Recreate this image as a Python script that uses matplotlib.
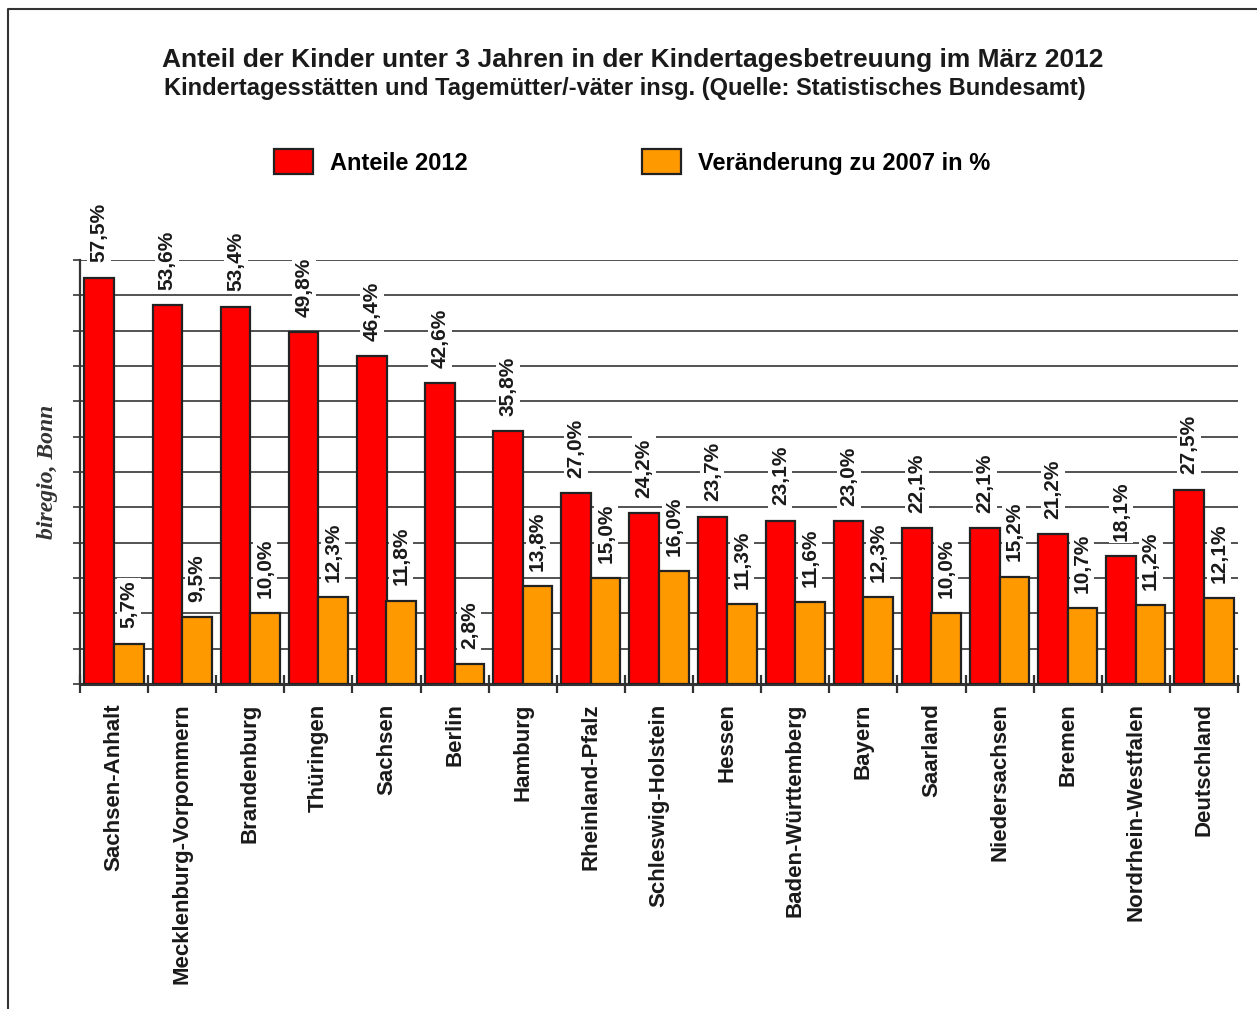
import matplotlib
matplotlib.use("Agg")
import matplotlib.pyplot as plt
import numpy as np
from matplotlib.lines import Line2D
from matplotlib.patches import Patch

categories = ["Sachsen-Anhalt", "Mecklenburg-Vorpommern", "Brandenburg", "Thüringen",
              "Sachsen", "Berlin", "Hamburg", "Rheinland-Pfalz", "Schleswig-Holstein",
              "Hessen", "Baden-Württemberg", "Bayern", "Saarland", "Niedersachsen",
              "Bremen", "Nordrhein-Westfalen", "Deutschland"]
anteile_2012 = [57.5, 53.6, 53.4, 49.8, 46.4, 42.6, 35.8, 27.0, 24.2, 23.7, 23.1,
                23.0, 22.1, 22.1, 21.2, 18.1, 27.5]
veraenderung = [5.7, 9.5, 10.0, 12.3, 11.8, 2.8, 13.8, 15.0, 16.0, 11.3, 11.6,
                12.3, 10.0, 15.2, 10.7, 11.2, 12.1]
series_names = ["Anteile 2012", "Veränderung zu 2007 in %"]
title1 = "Anteil der Kinder unter 3 Jahren in der Kindertagesbetreuung im März 2012"
title2 = "Kindertagesstätten und Tagemütter/-väter insg. (Quelle: Statistisches Bundesamt)"

plt.rcParams['font.family'] = ['Liberation Sans', 'DejaVu Sans']
W, H = 1257, 1009
fig = plt.figure(figsize=(W / 100, H / 100), dpi=100)
ax = fig.add_axes([80 / W, 1 - 684 / H, (1238 - 80) / W, (684 - 260) / H])

red = '#FF0000'
orange = '#FF9900'
edge = '#222222'
x = np.arange(len(categories))
bw = 0.435
off = 0.217
ax.bar(x - off, anteile_2012, bw, color=red, edgecolor=edge, linewidth=1.6, zorder=3)
ax.bar(x + off, veraenderung, bw, color=orange, edgecolor=edge, linewidth=1.6, zorder=3)

def fmt(v):
    return f"{v:.1f}".replace('.', ',') + '%'

for xs, vals in ((x - off, anteile_2012), (x + off, veraenderung)):
    for xi, v in zip(xs, vals):
        ax.annotate(fmt(v), (xi, v), xytext=(0, 11), textcoords='offset points',
                    rotation=90, ha='center', va='bottom', fontsize=15,
                    fontweight='bold', color='#1a1a1a', zorder=5,
                    bbox=dict(boxstyle='square,pad=0.12', fc='white', ec='none'),
                    annotation_clip=False)

ax.set_xlim(-0.5, len(categories) - 0.5)
ax.set_ylim(0, 60)
ax.set_yticks(np.arange(0, 61, 5))
ax.set_yticklabels([])
ax.yaxis.grid(True, color='#444444', linewidth=1.3)
ax.set_axisbelow(True)
ax.tick_params(axis='y', length=5, width=1.3, color='#444444')

ax.set_xticks(x)
ax.set_xticklabels(categories, rotation=90, fontsize=16, fontweight='bold', color='#1a1a1a')
ax.tick_params(axis='x', which='major', length=0, pad=14)
ax.set_xticks(np.arange(-0.5, len(categories), 1), minor=True)
ax.tick_params(axis='x', which='minor', length=13, width=1.6, direction='inout', color='#333333')

for s in ['top', 'right']:
    ax.spines[s].set_visible(False)
ax.spines['bottom'].set_linewidth(2.2)
ax.spines['bottom'].set_color('#333333')
ax.spines['left'].set_linewidth(1.6)
ax.spines['left'].set_color('#333333')

fig.text(633 / W, 1 - 60 / H, title1, ha='center', va='center', fontsize=19,
         fontweight='bold', color='#1a1a1a')
fig.text(625 / W, 1 - 88 / H, title2, ha='center', va='center', fontsize=17,
         fontweight='bold', color='#1a1a1a')

handles = [Patch(facecolor=red, edgecolor=edge, linewidth=1.6),
           Patch(facecolor=orange, edgecolor=edge, linewidth=1.6)]
fig.legend(handles, series_names, loc='center', bbox_to_anchor=(632 / W, 1 - 162 / H),
           ncol=2, frameon=False, prop={'weight': 'bold', 'size': 17},
           handlelength=1.65, handleheight=1.2, handletextpad=0.72, columnspacing=7.4)

fig.text(47 / W, 1 - 472 / H, "biregio, Bonn", rotation=90, ha='center', va='center',
         fontsize=17, fontweight='bold', style='italic', family='Liberation Serif',
         color='#333333')

fig.add_artist(Line2D([8 / W, 8 / W, 1.0], [0.0, 1 - 9 / H, 1 - 9 / H],
                      transform=fig.transFigure, color='#333333', linewidth=1.5))

fig.savefig('out.png', dpi=100)
